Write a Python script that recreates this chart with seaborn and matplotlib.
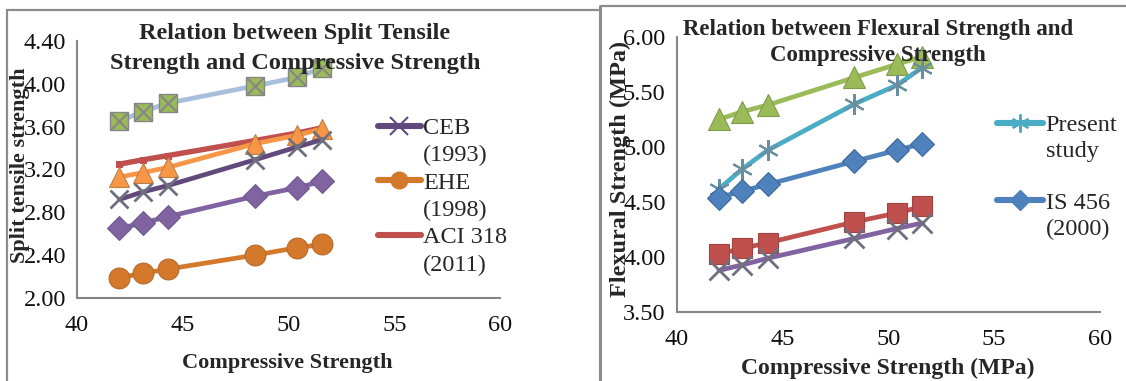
import matplotlib
matplotlib.use('Agg')
import matplotlib.pyplot as plt
from matplotlib.lines import Line2D
import seaborn as sns

# valores
comp = [42.0, 43.1, 44.3, 48.4, 50.4, 51.6]

# grafico izquierdo: resistencia a traccion indirecta
split_sq = [3.65, 3.74, 3.82, 3.98, 4.06, 4.15]
split_aci = [3.25, 3.29, 3.33, 3.47, 3.54, 3.59]
split_tri = [3.13, 3.17, 3.22, 3.44, 3.52, 3.58]
split_ceb = [2.92, 2.99, 3.05, 3.29, 3.41, 3.48]
split_dia = [2.65, 2.70, 2.76, 2.95, 3.03, 3.09]
split_ehe = [2.19, 2.23, 2.27, 2.40, 2.47, 2.50]
left_yticks = [2.00, 2.40, 2.80, 3.20, 3.60, 4.00, 4.40]
left_labels = ['CEB', '(1993)', 'EHE', '(1998)', 'ACI 318', '(2011)']

# grafico derecho: resistencia a flexion
flex_tri = [5.25, 5.32, 5.38, 5.63, 5.75, 5.82]
flex_present = [4.62, 4.80, 4.97, 5.39, 5.56, 5.72]
flex_is456 = [4.54, 4.60, 4.66, 4.87, 4.97, 5.03]
flex_sq = [4.03, 4.08, 4.13, 4.32, 4.40, 4.46]
flex_x = [3.88, 3.93, 3.99, 4.17, 4.26, 4.31]
right_yticks = [3.50, 4.00, 4.50, 5.00, 5.50, 6.00]
right_labels = ['Present', 'study', ' ', 'IS 456', '(2000)']
xticks = [40, 45, 50, 55, 60]

sns.set_theme(style='white')
plt.rcParams['font.family'] = ['Liberation Serif', 'DejaVu Serif']

W, H = 1126, 381
fig = plt.figure(figsize=(W / 100, H / 100), dpi=100)

def px(x0, y0, x1, y1):
    return [x0 / W, 1 - y1 / H, (x1 - x0) / W, (y1 - y0) / H]

gris = '#868686'
lw = 3.4


def estilo(ax, yticks, ylim):
    ax.set_xlim(40, 60)
    ax.set_ylim(*ylim)
    ax.set_xticks(xticks)
    ax.set_yticks(yticks)
    ax.set_yticklabels([f'{v:.2f}' for v in yticks])
    for s in ['top', 'right']:
        ax.spines[s].set_visible(False)
    for s in ['left', 'bottom']:
        ax.spines[s].set_color(gris)
        ax.spines[s].set_linewidth(1.5)
    ax.tick_params(axis='both', direction='out', length=5, width=1.2, color=gris,
                   labelsize=17.5, labelcolor='#111111')
    ax.tick_params(axis='x', pad=7)
    ax.tick_params(axis='y', pad=3)


def vacio():
    return Line2D([], [], color='none')


# ---------------- izquierda ----------------
ax1 = fig.add_axes(px(77, 41, 500, 298))
sns.lineplot(x=comp, y=split_sq, ax=ax1, color='#a8bfdc', lw=lw, marker='s',
             markersize=13, markerfacecolor='#9bbb59', markeredgecolor=gris, mew=1)
sns.scatterplot(x=comp, y=split_sq, ax=ax1, marker='x', s=150, color=gris,
                linewidth=1.5, zorder=5)
sns.lineplot(x=comp, y=split_aci, ax=ax1, color='#c0504d', lw=lw + 0.5, marker='s',
             markersize=5, markeredgecolor='#c0504d')
sns.lineplot(x=comp, y=split_tri, ax=ax1, color='#f79646', lw=lw, marker='^',
             markersize=15, markeredgecolor='#c08040', mew=0.8)
sns.lineplot(x=comp, y=split_ceb, ax=ax1, color='#604a7b', lw=lw, marker='x',
             markersize=13, markeredgecolor='#6f6f7f', mew=2)
sns.lineplot(x=comp, y=split_dia, ax=ax1, color='#8064a2', lw=lw, marker='D',
             markersize=12, markeredgecolor='#6f5a8c', mew=0.8)
sns.lineplot(x=comp, y=split_ehe, ax=ax1, color='#d4792c', lw=lw, marker='o',
             markersize=15, markeredgecolor='#b56a2a', mew=0.8)
estilo(ax1, left_yticks, (2.0, 4.4))
ax1.set_xlabel('Compressive Strength', fontsize=16, fontweight='bold')
ax1.set_ylabel('Split tensile strength', fontsize=16, fontweight='bold')
ax1.xaxis.set_label_coords(0.496, -0.215)
ax1.yaxis.set_label_coords(-0.11, 0.517)

h1 = [Line2D([], [], color='#604a7b', lw=lw + 1, marker='x', markersize=13,
             markeredgecolor='#604a7b', mew=1.5), vacio(),
      Line2D([], [], color='#d4792c', lw=lw + 1, marker='o', markersize=12,
             markeredgecolor='#d4792c'), vacio(),
      Line2D([], [], color='#c0504d', lw=lw + 1), vacio()]
fig.legend(h1, left_labels, loc='upper left', bbox_to_anchor=(378 / W, 1 - 117 / H),
           frameon=False, fontsize=17.5, handlelength=1.75, handletextpad=0.1,
           borderpad=0, borderaxespad=0, labelspacing=0.22)
fig.text(295 / W, 1 - 23 / H, 'Relation between Split Tensile\nStrength and Compressive Strength',
         ha='center', va='top', fontsize=17.5, fontweight='bold', linespacing=1.55)

# ---------------- derecha ----------------
ax2 = fig.add_axes(px(676.7, 36.7, 1100, 312.3))
sns.lineplot(x=comp, y=flex_tri, ax=ax2, color='#9bbb59', lw=lw, marker='^',
             markersize=16, markeredgecolor='#7f9a4a', mew=0.8)
sns.lineplot(x=comp, y=flex_present, ax=ax2, color='#4bacc6', lw=lw, marker=(6, 2, 0),
             markersize=15, markeredgecolor='#6a8fa0', mew=1.5)
sns.lineplot(x=comp, y=flex_is456, ax=ax2, color='#4f81bd', lw=lw, marker='D',
             markersize=12, markeredgecolor='#3f6a9c', mew=0.8)
sns.lineplot(x=comp, y=flex_sq, ax=ax2, color='#c0504d', lw=lw, marker='s',
             markersize=14, markeredgecolor='#a04340', mew=0.8)
sns.lineplot(x=comp, y=flex_x, ax=ax2, color='#8064a2', lw=lw, marker='x',
             markersize=14, markeredgecolor='#6f6f7f', mew=2)
estilo(ax2, right_yticks, (3.5, 6.0))
ax2.set_xlabel('Compressive Strength (MPa)', fontsize=17, fontweight='bold')
ax2.set_ylabel('Flexural Strength (MPa)', fontsize=17.5, fontweight='bold')
ax2.xaxis.set_label_coords(0.499, -0.165)
ax2.yaxis.set_label_coords(-0.108, 0.52)

h2 = [Line2D([], [], color='#4bacc6', lw=lw + 1, marker=(6, 2, 0), markersize=13,
             markeredgecolor='#4bacc6', mew=1.5), vacio(), vacio(),
      Line2D([], [], color='#4f81bd', lw=lw + 1, marker='D', markersize=10,
             markeredgecolor='#4f81bd'), vacio()]
fig.legend(h2, right_labels, loc='upper left', bbox_to_anchor=(997 / W, 1 - 114 / H),
           frameon=False, fontsize=17.5, handlelength=1.9, handletextpad=0.1,
           borderpad=0, borderaxespad=0, labelspacing=0.16)
fig.text(878 / W, 1 - 19 / H, 'Relation between Flexural Strength and\nCompressive Strength',
         ha='center', va='top', fontsize=16.5, fontweight='bold', linespacing=1.32)

# marcos de los dos paneles
borde = dict(color='#8c8c8c', lw=1.6, transform=fig.transFigure)
fig.add_artist(Line2D([7 / W, 600 / W], [1 - 10 / H, 1 - 10 / H], **borde))
fig.add_artist(Line2D([7 / W, 7 / W], [1 - 10 / H, 0], **borde))
fig.add_artist(Line2D([601 / W, 1], [1 - 6 / H, 1 - 6 / H], **borde))
fig.add_artist(Line2D([600 / W, 600 / W], [1 - 6 / H, 0], color='#8c8c8c', lw=2.2,
                      transform=fig.transFigure))

fig.savefig('out.png', dpi=100)
